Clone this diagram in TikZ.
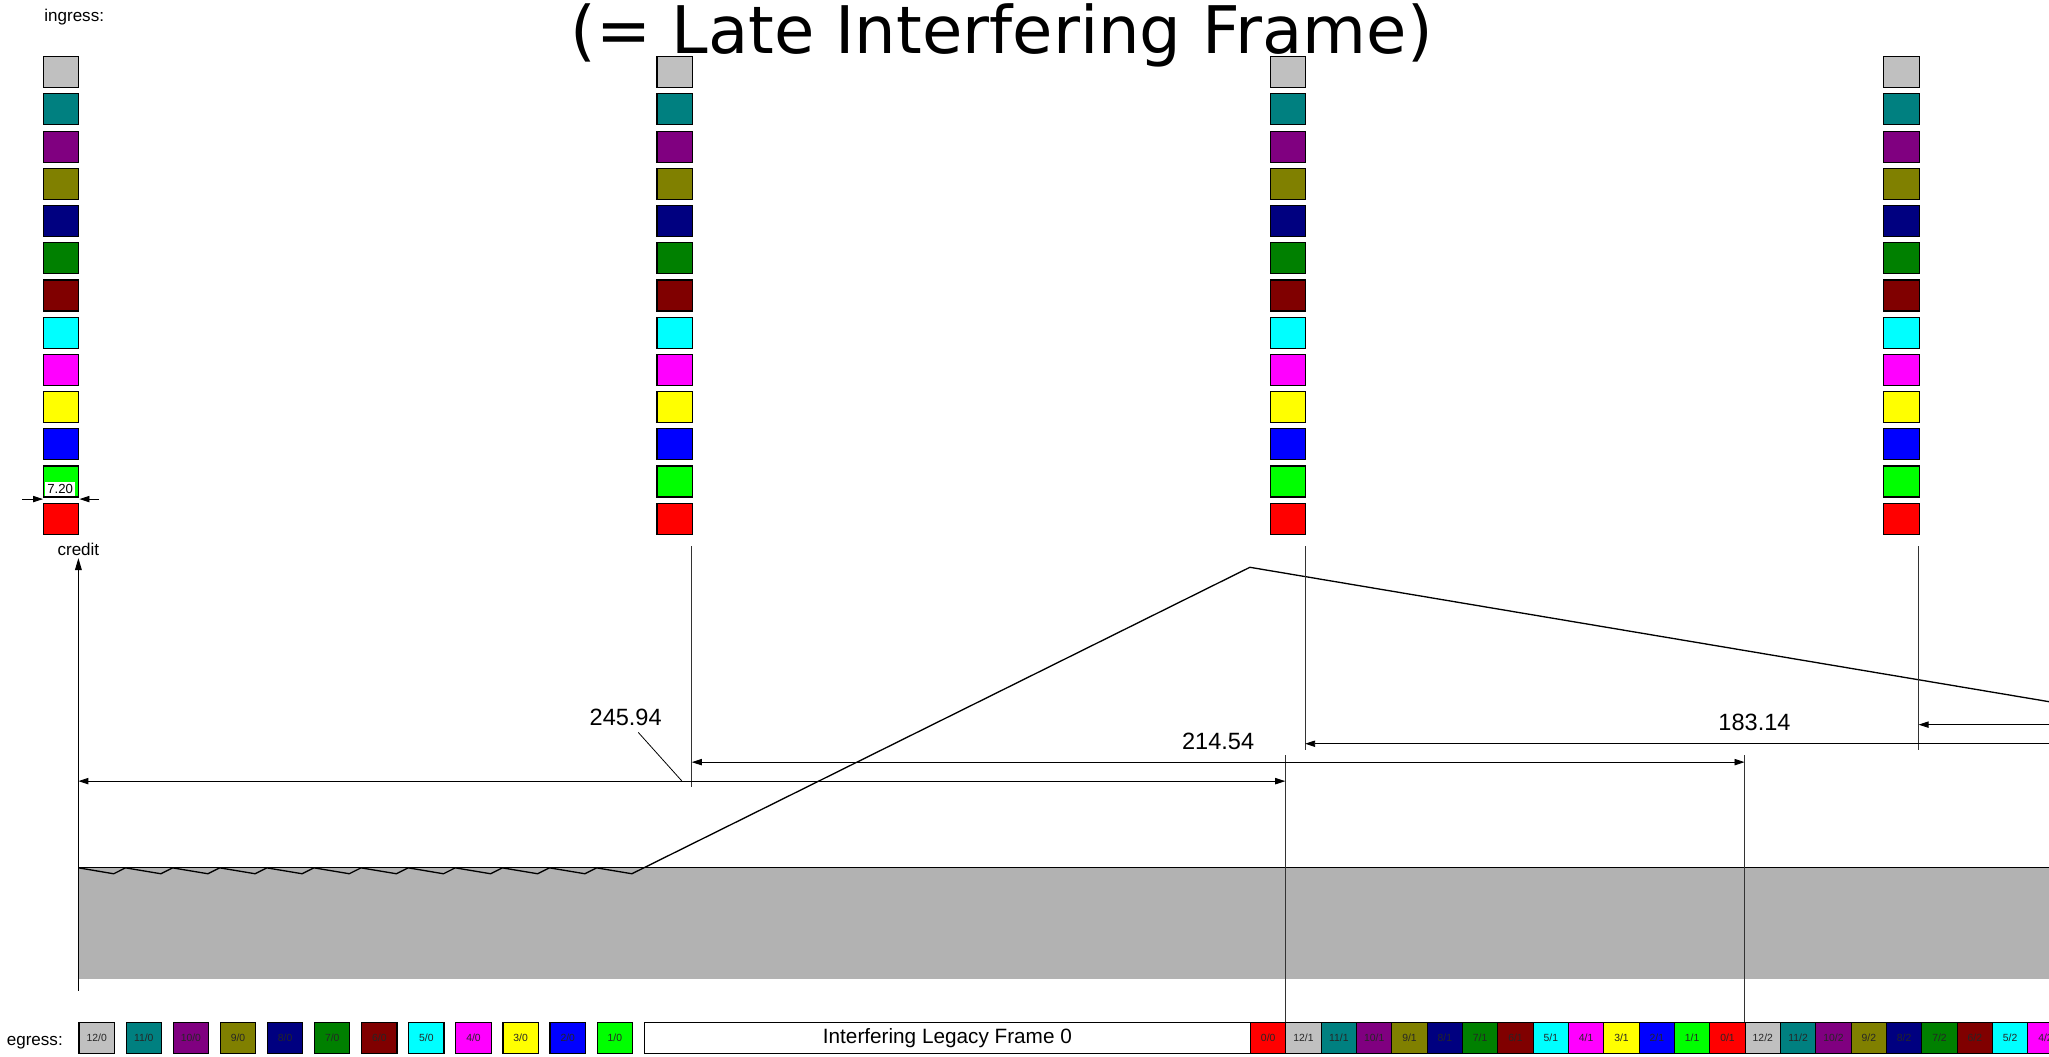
\documentclass[tikz,border=0pt]{standalone}
\usepackage{fontspec}
\setmainfont{Liberation Sans}
\newfontfamily\titlefont{DejaVu Sans}
\usetikzlibrary{arrows.meta}
\definecolor{c12}{RGB}{192,192,192}
\definecolor{c11}{RGB}{0,128,128}
\definecolor{c10}{RGB}{128,0,128}
\definecolor{c9}{RGB}{128,128,0}
\definecolor{c8}{RGB}{0,0,128}
\definecolor{c7}{RGB}{0,128,0}
\definecolor{c6}{RGB}{128,0,0}
\definecolor{c5}{RGB}{0,255,255}
\definecolor{c4}{RGB}{255,0,255}
\definecolor{c3}{RGB}{255,255,0}
\definecolor{c2}{RGB}{0,0,255}
\definecolor{c1}{RGB}{0,255,0}
\definecolor{c0}{RGB}{255,0,0}
\definecolor{areagray}{RGB}{178,178,178}
\begin{document}
\begin{tikzpicture}[x=0.09814cm,y=-0.02cm,
  insq/.style={draw=black, line width=0.6pt, inner sep=0pt, minimum width=0.7066cm, minimum height=0.62cm, anchor=north west},
  egsq/.style={draw=black, line width=0.7pt, inner sep=0pt, minimum width=0.7066cm, minimum height=0.608cm, anchor=north west, text=black!85, font=\fontsize{5.9}{6}\selectfont},
  extline/.style={draw=black!80, line width=0.5pt},
  dimline/.style={draw=black, line width=0.5pt, {Triangle[length=5.7pt,width=3.6pt]}-{Triangle[length=5.7pt,width=3.6pt]}},
  dimhalf/.style={draw=black, line width=0.5pt, {Triangle[length=5.7pt,width=3.6pt]}-},
  dimlabel/.style={anchor=base, inner sep=0pt, font=\fontsize{13.4}{15}\selectfont},
  smalllabel/.style={inner sep=0pt, font=\fontsize{9.7}{11}\selectfont},
  curve/.style={draw=black, line width=0.75pt, line join=miter}
]
\useasboundingbox (-15.977,0) rectangle (401.59,1056);
\clip (-15.977,0) rectangle (401.59,1056);

% title
\node[anchor=base, inner sep=0pt] (title) at (188.13,53) {\titlefont\fontsize{37.35}{40}\selectfont (= Late Interfering Frame)};
\node[smalllabel, anchor=base west] (ingress) at (-7.01,21) {ingress:};

% ingress columns
\foreach \c in {0,...,3} {
  \foreach \k in {0,...,12} {
    \pgfmathsetmacro\xl{-7.2+125*\c}
    \pgfmathsetmacro\yt{56.2+(12-\k)*37.2}
    \node[insq, fill=c\k] (in\c-\k) at (\xl,\yt) {};
  }
}

% 7.20 dimension
\coordinate (w1) at (-11.49,499);
\coordinate (w2) at (4.2,499);
\draw[line width=0.5pt, -{Triangle[length=5.7pt,width=3.6pt]}] (w1) -- (in0-0.west |- w1);
\draw[line width=0.5pt, -{Triangle[length=5.7pt,width=3.6pt]}] (w2) -- (in0-0.east |- w2);
\node[fill=white, inner sep=1.2pt, font=\fontsize{7.5}{8}\selectfont] (wlabel) at (-3.72,489) {7.20};

% gray area
\fill[areagray] (0,867.7) rectangle (402,978.8);
\draw[line width=0.6pt] (0,867.7) -- (402,867.7);

% credit axis
\coordinate (ax0) at (0,990.5);
\coordinate (ax1) at (0,558);
\draw[line width=0.6pt, -{Triangle[length=6.8pt,width=3.8pt]}] (ax0) -- (ax1);
\node[smalllabel, anchor=base] (credit) at (0,555) {credit};

% credit curve
\draw[curve] (0,867.7) \foreach \i in {0,...,10} { -- ({9.6*\i+7.2},873.6) -- ({9.6*\i+9.6},867.7) } -- (112.8,873.6) -- (238.74,567.2) -- (430,725);

% extension lines
\coordinate (x1a) at (125,546);   \coordinate (x1b) at (125,786.7);
\coordinate (x2a) at (250,546);   \coordinate (x2b) at (250,750);
\coordinate (x3a) at (375,546);   \coordinate (x3b) at (375,750);
\coordinate (x4a) at (245.94,755); \coordinate (x4b) at (245.94,1022);
\coordinate (x5a) at (339.54,755); \coordinate (x5b) at (339.54,1022);
\draw[extline] (x1a) -- (x1b);
\draw[extline] (x2a) -- (x2b);
\draw[extline] (x3a) -- (x3b);
\draw[extline] (x4a) -- (x4b);
\draw[extline] (x5a) -- (x5b);

% dimension lines
\draw[dimline] (0,781) -- (245.94,781);
\node[dimlabel] (d1) at (111.53,725) {245.94};
\draw[line width=0.45pt] (114.1,732.3) -- (122.95,780.7);
\draw[dimline] (125,762) -- (339.54,762);
\node[dimlabel] (d2) at (232.27,749) {214.54};
\draw[dimline] (250,743.6) -- (433.14,743.6);
\node[dimlabel] (d3) at (341.57,730.5) {183.14};
\draw[dimhalf] (375,724.5) -- (460,724.5);

% egress
\node[smalllabel, anchor=base west] (egress) at (-14.65,1045) {egress:};
\foreach \k in {12,...,1} {
  \pgfmathsetmacro\xl{(12-\k)*9.6}
  \node[egsq, fill=c\k] (e0-\k) at (\xl,1022) {\k/0};
}
\node[draw=black, line width=0.7pt, inner sep=0pt, minimum width=12.124cm, minimum height=0.608cm, anchor=north west, font=\fontsize{11.8}{13}\selectfont] (frame) at (115.2,1022) {Interfering Legacy Frame 0};
\node[egsq, fill=c0] (e0-0) at (238.74,1022) {0/0};
\foreach \k in {12,...,0} {
  \pgfmathsetmacro\xl{245.94+(12-\k)*7.2}
  \node[egsq, fill=c\k] (e1-\k) at (\xl,1022) {\k/1};
}
\foreach \k in {12,...,4} {
  \pgfmathsetmacro\xl{339.54+(12-\k)*7.2}
  \node[egsq, fill=c\k] (e2-\k) at (\xl,1022) {\k/2};
}
\end{tikzpicture}
\end{document}
